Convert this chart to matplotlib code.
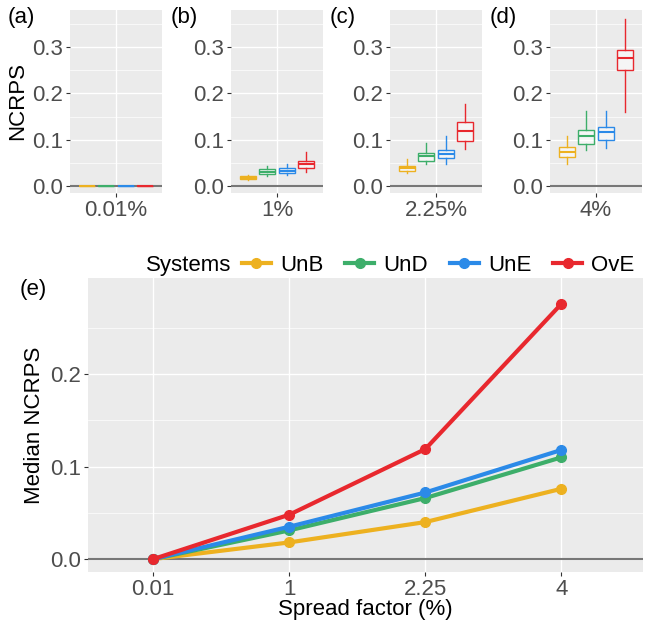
import matplotlib
matplotlib.use("Agg")
import matplotlib.pyplot as plt
from matplotlib.lines import Line2D

plt.rcParams['font.family'] = ['Liberation Sans', 'DejaVu Sans']

systems = ["UnB", "UnD", "UnE", "OvE"]
colors = ["#EDB120", "#3DAE6A", "#2B8AE8", "#E8282E"]
spread_labels = ["0.01", "1", "2.25", "4"]
panel_labels = ["0.01%", "1%", "2.25%", "4%"]
medians = {
    "UnB": [0.0, 0.018, 0.040, 0.076],
    "UnD": [0.0, 0.031, 0.066, 0.110],
    "UnE": [0.0, 0.035, 0.072, 0.118],
    "OvE": [0.0, 0.048, 0.119, 0.276],
}
# box stats per panel: (whislo, q1, med, q3, whishi)
boxes = [
    {"UnB": (0, 0, 0, 0, 0), "UnD": (0, 0, 0, 0, 0), "UnE": (0, 0, 0, 0, 0), "OvE": (0, 0, 0, 0, 0)},
    {"UnB": (0.013, 0.015, 0.018, 0.021, 0.024), "UnD": (0.022, 0.027, 0.031, 0.036, 0.043),
     "UnE": (0.024, 0.028, 0.033, 0.038, 0.047), "OvE": (0.030, 0.040, 0.047, 0.054, 0.074)},
    {"UnB": (0.028, 0.032, 0.038, 0.044, 0.058), "UnD": (0.047, 0.055, 0.064, 0.072, 0.093),
     "UnE": (0.048, 0.060, 0.070, 0.078, 0.107), "OvE": (0.080, 0.098, 0.119, 0.138, 0.177)},
    {"UnB": (0.048, 0.062, 0.074, 0.084, 0.107), "UnD": (0.078, 0.091, 0.108, 0.122, 0.162),
     "UnE": (0.083, 0.100, 0.116, 0.128, 0.163), "OvE": (0.160, 0.250, 0.276, 0.294, 0.360)},
]

W, H = 647, 620
fig = plt.figure(figsize=(W/100, H/100), dpi=100)
bg = "#EBEBEB"
tc = "#4D4D4D"
FS = 16

def style(ax):
    ax.set_facecolor(bg)
    for s in ax.spines.values():
        s.set_visible(False)
    ax.grid(True, color="white", lw=1.0)
    ax.set_axisbelow(True)
    ax.tick_params(colors="#333333", labelsize=FS, length=3, pad=2, labelcolor=tc)

lefts = [70, 231, 390, 550]
letters = ["(a)", "(b)", "(c)", "(d)"]
for i in range(4):
    ax = fig.add_axes([lefts[i]/W, 1-193/H, 92/W, 183/H])
    style(ax)
    ax.set_ylim(-0.015, 0.38)
    ax.set_xlim(0.4, 1.6)
    ax.set_yticks([0.0, 0.1, 0.2, 0.3])
    ax.set_yticks([0.05, 0.15, 0.25, 0.35], minor=True)
    ax.grid(True, which="minor", axis="y", color="white", lw=0.5)
    ax.tick_params(which="minor", length=0)
    ax.set_xticks([1])
    ax.set_xticklabels([panel_labels[i]])
    ax.axhline(0, color="#777777", lw=1.5, zorder=1)
    for j, s in enumerate(systems):
        lo, q1, med, q3, hi = boxes[i][s]
        pos = 1 + (j - 1.5) * 0.25
        ax.bxp([{"whislo": lo, "q1": q1, "med": med, "q3": q3, "whishi": hi, "fliers": []}],
               positions=[pos], widths=0.21, patch_artist=True, showcaps=False,
               boxprops=dict(facecolor=(1, 1, 1, 0.5), edgecolor=colors[j], lw=1.0),
               medianprops=dict(color=colors[j], lw=1.5),
               whiskerprops=dict(color=colors[j], lw=1.0), manage_ticks=False)
    if i == 0:
        ax.set_ylabel("NCRPS", fontsize=FS, color="black", labelpad=3)
    fig.text((lefts[i]-60)/W if i else 8/W, 1-18/H, letters[i], fontsize=FS, va="center")

ax = fig.add_axes([88/W, 1-572/H, 555/W, 294/H])
style(ax)
x = [1, 2, 3, 4]
ax.set_xlim(0.52, 4.6)
ax.set_ylim(-0.014, 0.304)
ax.set_yticks([0.0, 0.1, 0.2])
ax.set_yticks([0.05, 0.15, 0.25], minor=True)
ax.set_xticks(x)
ax.set_xticklabels(spread_labels)
ax.grid(True, which="minor", axis="y", color="white", lw=0.5)
ax.tick_params(which="minor", length=0)
ax.axhline(0, color="#777777", lw=1.5, zorder=1)
for j, s in enumerate(systems):
    ax.plot(x, medians[s], color=colors[j], lw=3, marker="o", ms=7, zorder=3 + j)
ax.set_xlabel("Spread factor (%)", fontsize=FS, labelpad=-1)
ax.set_ylabel("Median NCRPS", fontsize=FS)
fig.text(20/W, 1-290/H, "(e)", fontsize=FS, va="center")

handles = [Line2D([], [], color=c, lw=3, marker="o", ms=7) for c in colors]
fig.legend(handles, systems, loc="center left", bbox_to_anchor=(242/W, 1-265/H), ncol=4,
           frameon=False, fontsize=FS, handlelength=1.3, columnspacing=1.0,
           handletextpad=0.4, borderaxespad=0, borderpad=0)
fig.text(146/W, 1-265/H, "Systems", fontsize=FS, va="center")
fig.savefig("out.png", dpi=100)
